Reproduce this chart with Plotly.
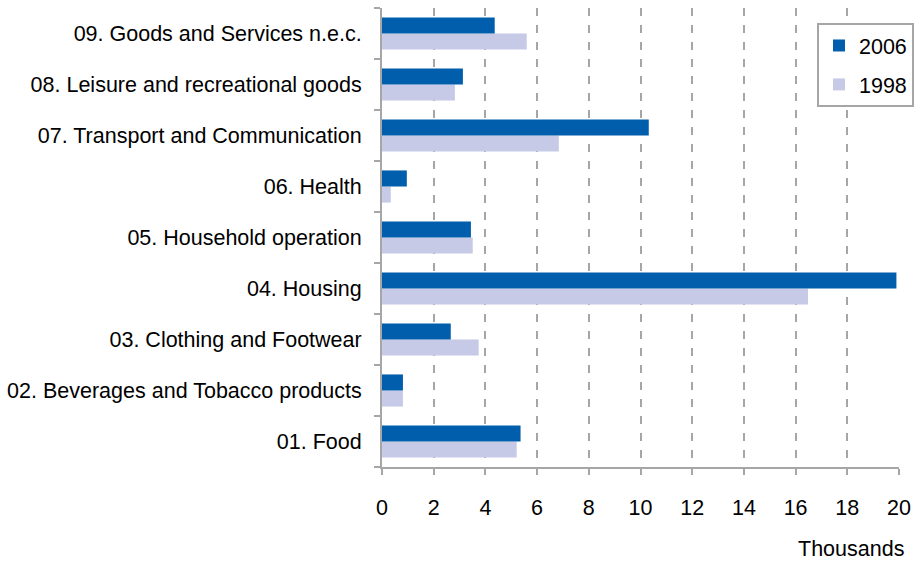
import plotly.graph_objects as go

categories = [
    "01. Food",
    "02. Beverages and Tobacco products",
    "03. Clothing and Footwear",
    "04. Housing",
    "05. Household operation",
    "06. Health",
    "07. Transport and Communication",
    "08. Leisure and recreational goods",
    "09. Goods and Services n.e.c.",
]
values_2006 = [5.36, 0.81, 2.66, 19.9, 3.44, 0.96, 10.32, 3.13, 4.36]
values_1998 = [5.21, 0.81, 3.74, 16.48, 3.51, 0.34, 6.84, 2.82, 5.60]
x_ticks = [0, 2, 4, 6, 8, 10, 12, 14, 16, 18, 20]

FONT = "Liberation Sans, Arial, sans-serif"
AXIS_COLOR = "#A6A6A6"
FS = 21.5

fig = go.Figure()
fig.add_trace(go.Bar(
    y=categories, x=values_1998, name="1998", orientation="h",
    marker=dict(color="#C6CAE7", line=dict(width=0)),
    legendgroup="b", legendrank=2,
))
fig.add_trace(go.Bar(
    y=categories, x=values_2006, name="2006", orientation="h",
    marker=dict(color="#005EAC", line=dict(width=0)),
    legendgroup="a", legendrank=1,
))

W, H = 917, 563
L = 382
R = W - 899
T = 8
B = H - 467
pw = W - L - R
ph = H - T - B

fig.update_layout(
    width=W, height=H,
    margin=dict(l=L, r=R, t=T, b=B, pad=0, autoexpand=False),
    paper_bgcolor="white", plot_bgcolor="white",
    barmode="group", bargap=0.37, bargroupgap=0,
    font=dict(family=FONT, size=FS, color="#000000"),
    legend=dict(
        x=(817 - L) / pw, y=(ph - (23 - T)) / ph,
        xanchor="left", yanchor="top",
        bordercolor=AXIS_COLOR, borderwidth=2, bgcolor="white",
        traceorder="grouped", tracegroupgap=8,
        font=dict(family=FONT, size=FS, color="#000000"),
        itemwidth=30,
    ),
    showlegend=True,
)
fig.update_xaxes(
    range=[0, 20], tickvals=x_ticks, ticktext=[str(v) for v in x_ticks],
    showgrid=True, gridcolor=AXIS_COLOR, gridwidth=2, griddash="8px,9px",
    zeroline=False, showline=True, linecolor=AXIS_COLOR, linewidth=2,
    ticks="outside", ticklen=6, tickwidth=2, tickcolor=AXIS_COLOR,
    ticklabelstandoff=14, automargin=False,
    tickfont=dict(family=FONT, size=FS, color="#000000"),
)
fig.update_yaxes(
    type="category", categoryorder="array", categoryarray=categories,
    showgrid=False, zeroline=False, showline=True, linecolor=AXIS_COLOR, linewidth=2,
    ticks="outside", ticklen=6, tickwidth=2, tickcolor=AXIS_COLOR,
    tickson="boundaries", ticklabelstandoff=14, automargin=False,
    tickfont=dict(family=FONT, size=FS, color="#000000"),
)
fig.add_annotation(
    text="Thousands", xref="paper", yref="paper",
    x=(906 - L) / pw, y=-(549 - (H - B)) / ph,
    xanchor="right", yanchor="middle", showarrow=False,
    font=dict(family=FONT, size=FS, color="#000000"),
)

fig.write_html(
    "out.html",
    config={"displayModeBar": False},
    post_script="document.body.style.margin='0';document.body.style.overflow='hidden';",
)
